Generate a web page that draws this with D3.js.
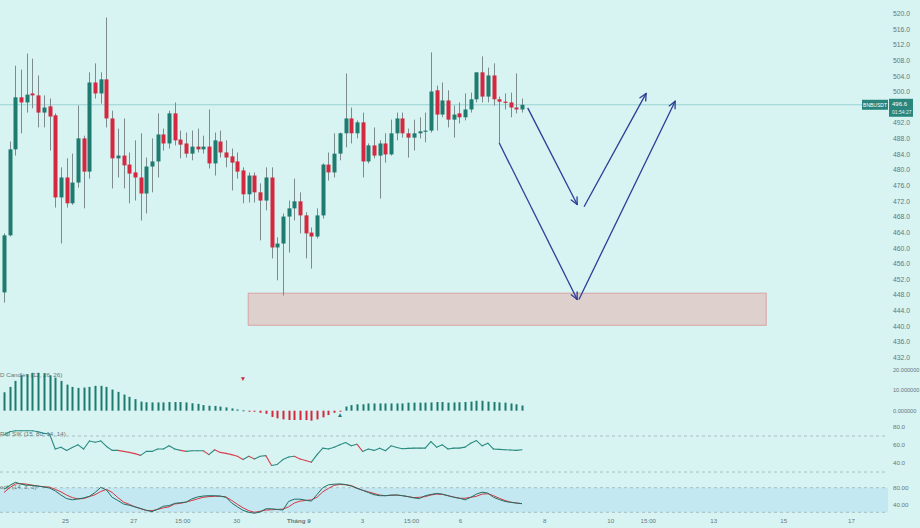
<!DOCTYPE html>
<html><head><meta charset="utf-8">
<script src="https://cdn.jsdelivr.net/npm/d3@7/dist/d3.min.js"></script>
<style>
body{margin:0;background:#d7f4f3;}
svg{display:block;font-family:"Liberation Sans","DejaVu Sans",sans-serif;}
</style>
</head><body>
<svg id="c" width="920" height="528"></svg>
<script>
// ---------- DATA ----------
const opens = [448.6,463.2,485.2,498.5,497.2,499.5,499.0,494.6,496.2,493.9,
472.9,478.0,471.4,476.7,488.0,479.5,502.3,499.5,503.1,493.1,
482.9,483.6,481.3,479.3,478.0,473.9,480.8,482.1,489.0,486.7,
494.4,487.7,486.7,484.1,485.9,485.2,485.9,481.6,487.2,484.4,
483.4,482.1,479.8,473.7,478.5,474.2,472.1,478.0,460.1,461.1,
468.0,470.1,471.9,468.3,463.9,462.9,468.3,481.3,479.3,484.1,
489.3,493.1,489.3,492.1,482.1,486.2,483.6,486.7,483.9,489.3,
493.1,489.3,488.2,489.3,489.8,490.0,500.3,494.1,497.7,492.8,
494.4,493.4,495.4,498.0,504.9,498.7,504.1,498.0,497.4,497.2,
495.9,495.4];
const closes = [463.2,485.2,498.5,497.2,499.2,499.0,494.6,495.9,493.6,472.9,
478.0,471.4,476.7,488.0,479.5,502.3,499.5,503.1,493.1,482.9,
483.6,481.1,479.0,478.0,473.9,480.8,482.1,489.0,486.7,494.4,
487.5,486.4,484.1,485.9,485.2,485.9,481.6,487.5,484.4,483.1,
481.8,479.5,473.7,478.5,474.2,472.1,478.0,460.1,461.1,468.0,
470.1,471.9,468.3,463.7,462.9,468.3,481.3,479.3,484.1,489.3,
493.1,489.3,492.1,482.1,486.2,483.6,486.7,483.9,489.3,493.1,
489.3,488.2,489.3,489.8,490.0,500.0,494.1,497.7,492.8,494.1,
493.4,495.4,498.0,504.9,498.7,504.1,498.0,497.4,497.2,495.9,
495.4,496.6];
const highs = [463.7,487.2,506.6,505.6,509.7,508.4,504.1,499.0,498.2,494.4,
480.6,482.9,484.1,496.4,488.7,504.9,507.2,504.9,518.9,495.1,
490.5,493.1,484.4,487.5,489.3,483.1,488.0,494.4,490.5,495.1,
497.2,490.0,489.5,490.0,490.5,488.7,495.4,489.5,490.0,487.5,
485.4,484.4,480.6,479.3,479.3,476.5,480.6,480.6,462.7,468.8,
472.1,477.7,474.2,469.1,465.2,470.1,481.6,484.4,489.3,489.5,
504.6,495.9,492.6,494.6,486.7,490.8,487.5,489.3,492.8,494.6,
494.6,490.5,492.8,493.4,494.6,510.0,501.5,502.3,500.3,496.4,
497.2,499.5,499.7,504.9,509.0,506.1,507.2,498.7,499.5,499.7,
504.6,498.2];
const lows = [446.0,462.9,483.6,489.3,494.6,495.7,490.8,490.8,484.9,470.3,
461.1,470.3,471.0,475.4,470.1,477.7,498.2,496.9,490.8,475.2,
478.0,475.2,471.4,472.1,467.0,468.8,474.2,478.0,484.9,485.4,
486.2,482.9,483.1,482.4,484.4,484.1,480.3,478.5,483.1,480.6,
474.7,477.7,471.4,471.6,471.6,461.9,469.6,457.3,451.7,447.8,
458.8,467.0,463.7,457.3,454.7,462.4,467.5,477.2,478.0,482.4,
485.7,486.7,488.0,478.0,481.6,482.9,472.6,481.8,483.6,487.5,
488.2,483.1,484.9,488.0,487.0,489.5,490.0,493.4,490.8,488.2,
491.8,492.6,494.6,497.2,497.2,497.2,496.4,486.7,495.4,493.4,
494.4,494.6];

const macdHist = [8.9,11.5,14.4,17.1,17.6,18.3,18.3,18.0,17.1,16.0,
14.4,12.6,11.5,11.0,11.2,11.5,12.0,12.0,11.5,10.2,
9.1,7.8,6.7,5.6,4.4,4.1,4.0,4.0,4.0,4.2,
4.2,4.2,4.0,3.6,3.3,2.7,2.4,2.3,2.0,1.6,
1.1,0.6,0.2,-0.2,-0.5,-1.0,-1.5,-3.0,-3.7,-4.2,
-4.5,-4.5,-4.5,-4.5,-4.8,-4.2,-3.2,-2.1,-1.0,-0.3,
2.0,2.7,3.1,3.1,3.5,3.5,3.5,3.5,3.5,3.5,
3.5,3.9,3.9,3.9,3.9,4.0,4.2,4.2,3.9,4.0,
4.1,4.2,4.4,4.8,4.8,4.4,4.2,4.0,3.9,3.5,
3.1,2.5];

const rsi = [71.0,74.7,75.8,75.8,75.8,75.8,74.7,72.9,72.2,55.5,
57.6,54.0,57.3,60.2,55.5,64.5,63.1,64.5,58.4,54.0,
54.0,52.9,51.8,50.4,48.5,52.9,52.9,55.5,55.5,59.1,
55.5,54.0,52.9,53.6,53.6,53.6,49.3,54.7,51.8,50.7,
49.3,47.5,43.8,47.5,44.5,47.5,48.2,37.3,38.4,43.8,
46.7,47.5,44.5,42.7,40.9,49.3,56.5,55.5,57.6,60.2,
62.7,59.1,60.9,52.9,55.5,54.0,56.5,53.6,59.1,57.3,
55.8,56.2,56.5,56.5,56.5,63.8,57.6,60.2,55.5,56.5,
56.5,57.6,62.0,64.9,59.1,62.0,55.5,55.1,54.7,54.4,
54.0,54.7];

const stochK = [76.1,85.5,93.2,88.6,86.2,85.5,83.9,81.6,79.2,72.2,
62.1,53.5,50.4,52.7,55.1,59.0,68.3,80.8,74.5,56.6,
48.8,40.3,37.2,33.3,29.4,24.7,21.6,27.8,34.8,36.4,
41.8,43.4,44.9,52.7,57.4,59.7,60.5,60.5,59.7,56.6,
42.6,33.3,24.7,20.0,17.7,20.8,28.6,28.6,27.0,25.5,
46.5,52.0,52.0,49.6,47.3,63.6,80.0,87.0,88.6,89.3,
87.8,83.9,78.4,73.8,68.3,62.9,60.5,60.5,62.1,62.1,
60.5,58.2,55.1,53.5,60.5,63.6,66.0,64.4,60.5,56.6,
54.3,50.4,56.6,64.4,69.1,66.8,56.6,51.2,46.5,44.2,
42.6,41.1];
const stochD = [68.3,80.0,89.3,90.1,88.6,86.2,83.9,82.3,81.6,76.1,
69.9,62.1,55.9,52.7,53.5,58.2,62.9,70.7,76.1,68.3,
55.9,44.9,39.5,33.3,28.6,24.7,23.9,27.0,30.9,33.3,
40.3,41.8,44.9,48.8,52.7,56.6,58.2,59.0,59.0,57.4,
48.8,39.5,30.9,23.9,20.0,22.4,25.5,26.2,27.0,27.8,
33.3,42.6,47.3,48.8,50.4,56.6,69.9,78.4,85.5,87.8,
87.0,85.5,79.2,73.8,69.9,66.0,62.1,60.5,61.3,62.1,
60.5,58.2,55.9,56.6,58.2,62.1,64.4,63.6,60.5,57.4,
54.3,54.3,56.6,59.0,64.4,65.2,60.5,54.3,48.8,44.9,
42.6,41.1];

const priceTicks = [520,516,512,508,504,500,492,488,484,480,476,472,468,464,460,456,452,448,444,440,436,432];
const macdTicks = [20,10,0];
const rsiTicks = [80,60,40];
const stochTicks = [80,40];
const timeLabels = ["25","27","15:00","30","Tháng 9","3","15:00","6","8","10","15:00","13","15","17"];
const timeIdx = [10.7,22.7,31.3,40.8,51.7,62.9,71.5,80.1,94.9,106.5,113.1,124.6,136.9,148.8];

const lastPrice = 496.6;
const symbol = "BNBUSDT";
const countdown = "01:54:27";
const zone = {i0: 42.9, i1: 133.9, p0: 448.4, p1: 440.2};
const arrows = [
  [[92.0,495.8],[100.7,471.1]],
  [[101.9,470.5],[112.8,499.5]],
  [[87.0,486.8],[100.7,446.8]],
  [[101.0,446.8],[117.9,497.5]]
];
const markers = [{i:42, v:16, sym:"▼", up:false},{i:59, v:-1.6, sym:"▲", up:true}];

// ---------- SCALES ----------
const svg = d3.select("#c");
const W = 888;
const x = d3.scaleLinear().domain([0,91]).range([4,522]);
const yP = d3.scaleLinear().domain([432,520]).range([357.3,13.3]);
const yM = d3.scaleLinear().domain([0,20]).range([410.7,369.3]);
const yR = d3.scaleLinear().domain([30,70]).range([472,436]);
const yS = d3.scaleLinear().domain([20,80]).range([512.3,487.7]);

const GREEN = "#1f7b70", RED = "#d3283f", AX = "#66777b";

svg.append("rect").attr("width",920).attr("height",528).attr("fill","#d7f4f3");

// zone
svg.append("rect")
  .attr("x", x(zone.i0)).attr("y", yP(zone.p0))
  .attr("width", x(zone.i1)-x(zone.i0)).attr("height", yP(zone.p1)-yP(zone.p0))
  .attr("fill","#ddd0cd").attr("stroke","#d8a4a4").attr("stroke-width",1);

// last price line
svg.append("line").attr("x1",0).attr("x2",862).attr("y1",yP(lastPrice)).attr("y2",yP(lastPrice))
  .attr("stroke","#9bd3d2").attr("stroke-width",1);

// candles
const idx = d3.range(opens.length);
const cg = svg.append("g");
cg.selectAll("line.w").data(idx).join("line")
  .attr("x1",i=>Math.round(x(i))+0.5).attr("x2",i=>Math.round(x(i))+0.5)
  .attr("y1",i=>yP(highs[i])).attr("y2",i=>yP(lows[i]))
  .attr("stroke","#7d8b8c").attr("stroke-width",1);
cg.selectAll("rect.b").data(idx).join("rect")
  .attr("x",i=>Math.round(x(i))-1.5).attr("width",4)
  .attr("y",i=>yP(Math.max(opens[i],closes[i])))
  .attr("height",i=>Math.max(1.2, Math.abs(yP(opens[i])-yP(closes[i]))))
  .attr("fill",i=>closes[i]>=opens[i]?GREEN:RED);

// arrows
const ARC = "#2c3d96";
arrows.forEach(([a,b])=>{
  const x0=x(a[0]), y0=yP(a[1]), x1=x(b[0]), y1=yP(b[1]);
  svg.append("line").attr("x1",x0).attr("y1",y0).attr("x2",x1).attr("y2",y1)
    .attr("stroke",ARC).attr("stroke-width",1.3);
  const ang = Math.atan2(y1-y0,x1-x0), L=7.5, s=0.45;
  [ang+Math.PI-s, ang+Math.PI+s].forEach(t=>{
    svg.append("line").attr("x1",x1).attr("y1",y1)
      .attr("x2",x1+L*Math.cos(t)).attr("y2",y1+L*Math.sin(t))
      .attr("stroke",ARC).attr("stroke-width",1.3).attr("stroke-linecap","round");
  });
});

function rightAxis(scale, ticks, fmt, fs){
  const g = svg.append("g").attr("transform","translate(891,0)")
    .call(d3.axisRight(scale).tickValues(ticks).tickFormat(d3.format(fmt)).tickSize(0).tickPadding(2));
  g.select(".domain").remove();
  g.selectAll("text").attr("fill",AX).attr("font-size",fs).attr("font-family","Liberation Sans, sans-serif");
  return g;
}

// price axis
rightAxis(yP, priceTicks, ".1f", 6.8);

// last price labels
const ly = yP(lastPrice);
svg.append("rect").attr("x",862).attr("y",ly-5).attr("width",26).attr("height",10).attr("fill","#2a857d");
svg.append("text").attr("x",875).attr("y",ly+2).attr("text-anchor","middle").attr("fill","#fff")
  .attr("font-size",5).text(symbol);
svg.append("rect").attr("x",889).attr("y",ly-6).attr("width",24).attr("height",18).attr("fill","#2a857d");
svg.append("text").attr("x",892).attr("y",ly+1.5).attr("fill","#fff").attr("font-size",6).text(lastPrice.toFixed(1));
svg.append("text").attr("x",892).attr("y",ly+9).attr("fill","#e0f3f1").attr("font-size",5).text(countdown);

// ---------- MACD ----------
svg.append("text").attr("x",0).attr("y",377).attr("fill",AX).attr("font-size",6.2)
  .text("D Candles (12, 26, 26)");
svg.append("g").selectAll("rect").data(idx).join("rect")
  .attr("x",i=>Math.round(x(i))-0.5).attr("width",2)
  .attr("y",i=>Math.min(yM(0),yM(macdHist[i])))
  .attr("height",i=>Math.max(1,Math.abs(yM(macdHist[i])-yM(0))))
  .attr("fill",i=>macdHist[i]>=0?GREEN:RED);
markers.forEach(m=>{
  svg.append("text").attr("x",x(m.i)).attr("y",yM(m.v)+3).attr("text-anchor","middle")
    .attr("font-size",6.5).attr("fill",m.up?GREEN:RED).text(m.sym);
});
rightAxis(yM, macdTicks, ".6f", 5.6);

// ---------- RSI ----------
[70,30].forEach(v=>{
  svg.append("line").attr("x1",0).attr("x2",W).attr("y1",yR(v)).attr("y2",yR(v))
    .attr("stroke","#9db1b5").attr("stroke-dasharray","3,3").attr("stroke-width",0.8);
});
svg.append("text").attr("x",0).attr("y",436).attr("fill",AX).attr("font-size",6.2)
  .text("RSI SIK (15, 80, 14, 14)");
const rg = svg.append("g");
for(let i=1;i<rsi.length;i++){
  const red = rsi[i]<rsi[i-1] && rsi[i]<53;
  rg.append("line").attr("x1",x(i-1)).attr("y1",yR(rsi[i-1])).attr("x2",x(i)).attr("y2",yR(rsi[i]))
    .attr("stroke",red?"#d8434f":"#2b8a80").attr("stroke-width",1.1).attr("stroke-linecap","round");
}
rightAxis(yR, rsiTicks, ".1f", 6.2);

// ---------- STOCH ----------
svg.append("rect").attr("x",0).attr("width",W).attr("y",yS(80)).attr("height",yS(20)-yS(80))
  .attr("fill","#c4e8f1");
[80,20].forEach(v=>{
  svg.append("line").attr("x1",0).attr("x2",W).attr("y1",yS(v)).attr("y2",yS(v))
    .attr("stroke","#9db1b5").attr("stroke-dasharray","3,3").attr("stroke-width",0.8);
});
svg.append("text").attr("x",0).attr("y",489).attr("fill",AX).attr("font-size",6.2)
  .text("och (14, 3, 3)");
const line = arr => d3.line().x((d,i)=>x(i)).y(d=>yS(d))(arr);
svg.append("path").attr("d",line(stochD)).attr("fill","none").attr("stroke","#d8343f").attr("stroke-width",1);
svg.append("path").attr("d",line(stochK)).attr("fill","none").attr("stroke","#1f6f66").attr("stroke-width",1);
rightAxis(yS, stochTicks, ".2f", 6.2);

// ---------- TIME AXIS ----------
const ta = svg.append("g").attr("transform","translate(0,517)")
  .call(d3.axisBottom(x).tickValues(timeIdx).tickFormat((d,i)=>timeLabels[i]).tickSize(0).tickPadding(2));
ta.select(".domain").remove();
ta.selectAll("text").attr("fill",AX).attr("font-size",6.2).attr("font-family","Liberation Sans, sans-serif")
  .attr("font-weight",(d,i)=>timeLabels[i]==="Tháng 9"?"bold":"normal");
</script>
</body></html>
